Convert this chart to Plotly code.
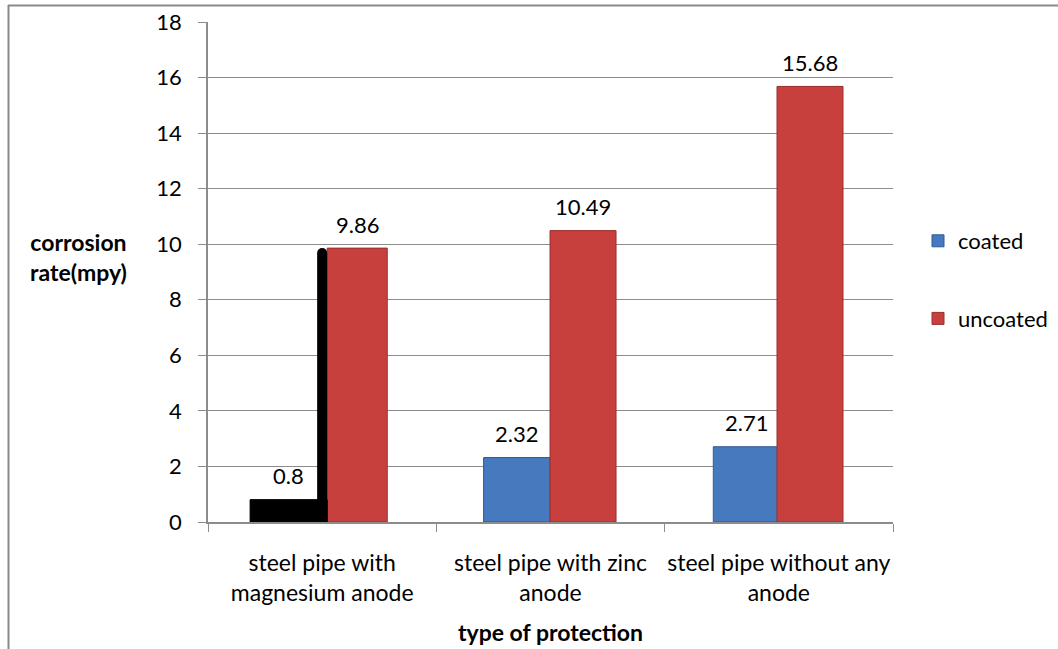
import plotly.graph_objects as go

# Corrosion rate (mpy) by type of cathodic protection
categories = ["steel pipe with<br>magnesium anode",
              "steel pipe with zinc<br>anode",
              "steel pipe without any<br>anode"]
coated = [0.8, 2.32, 2.71]
uncoated = [9.86, 10.49, 15.68]
y_ticks = [0, 2, 4, 6, 8, 10, 12, 14, 16, 18]

W, H = 1058, 649
L, R, T, B = 208, 165, 22, 127
PW, PH = W - L - R, H - T - B
FONT = "Lato"
GRID = "#8c8c8c"
BLUE = "#4679bd"
RED = "#c8403d"
TXT = 22

fig = go.Figure()

fig.add_bar(
    name="coated", x=categories, y=coated,
    marker=dict(color=BLUE, line=dict(color="#2f5a92", width=1)),
    offset=[-0.315, -0.293, -0.287], width=[0.337, 0.291, 0.287],
    legendgroup="a", hoverinfo="y",
)
fig.add_bar(
    name="uncoated", x=categories, y=uncoated,
    marker=dict(color=RED, line=dict(color="#9a2e2c", width=1)),
    offset=[0.022, -0.002, -0.008], width=[0.263, 0.289, 0.289],
    legendgroup="b", hoverinfo="y",
)
# first coated column is drawn in black, with a dark edge up the
# side of its uncoated neighbour
fig.add_bar(
    x=categories[:1], y=coated[:1],
    marker=dict(color="#000000", line=dict(color="#000000", width=1)),
    offset=-0.315, width=0.337, showlegend=False, hoverinfo="skip",
)
fig.add_bar(
    x=categories[:1], y=uncoated[:1],
    marker=dict(color="#000000", line=dict(width=0), cornerradius=6),
    offset=-0.022, width=0.044, showlegend=False, hoverinfo="skip",
)

# value labels above each column
label_x = {"coated": [-0.1465, -0.1475, -0.1435], "uncoated": [0.1535, 0.1425, 0.1365]}
for name, vals in (("coated", coated), ("uncoated", uncoated)):
    for i, v in enumerate(vals):
        fig.add_annotation(
            x=categories[i], y=v, text=f"{v:g}", showarrow=False,
            xshift=label_x[name][i] * PW / 3, yshift=24, yanchor="middle",
            font=dict(family=FONT, size=TXT, color="black"),
        )


def px(x):
    return (x - L) / PW


def py(y):
    return (T + PH - y) / PH


# axis titles
fig.add_annotation(
    x=px(78), y=py(257), xref="paper", yref="paper",
    xanchor="center", yanchor="middle",
    text="<b>corrosion<br>rate(mpy)</b>", showarrow=False, align="center",
    font=dict(family=FONT, size=23, color="black"),
)
fig.add_annotation(
    x=0.5, y=py(632), xref="paper", yref="paper",
    xanchor="center", yanchor="middle",
    text="<b>type of protection</b>", showarrow=False,
    font=dict(family=FONT, size=23, color="black"),
)

# chart frame (top and left edges)
fig.add_shape(type="line", xref="paper", yref="paper",
              x0=px(8), x1=px(1060), y0=py(5.5), y1=py(5.5),
              line=dict(color="#8a8a8a", width=2))
fig.add_shape(type="line", xref="paper", yref="paper",
              x0=px(8.5), x1=px(8.5), y0=py(5), y1=py(652),
              line=dict(color="#8a8a8a", width=2))

fig.update_layout(
    width=W, height=H,
    margin=dict(l=L, r=R, t=T, b=B, autoexpand=False),
    paper_bgcolor="white", plot_bgcolor="white",
    barmode="overlay",
    font=dict(family=FONT, size=TXT, color="black"),
    showlegend=True,
    legend=dict(x=px(918), y=py(220), xanchor="left", yanchor="top",
                tracegroupgap=46, font=dict(family=FONT, size=TXT, color="black"),
                bgcolor="rgba(0,0,0,0)"),
    xaxis=dict(
        type="category", tickson="boundaries", ticks="outside", ticklen=8,
        tickcolor=GRID, showline=True, linecolor=GRID, linewidth=1.5,
        showgrid=False, tickfont=dict(family=FONT, size=23), tickangle=0,
        ticklabelstandoff=20, range=[-0.5, 2.5], fixedrange=True,
        automargin=False,
    ),
    yaxis=dict(
        range=[0, 18], tickvals=y_ticks, ticks="outside", ticklen=8,
        tickcolor=GRID, showline=True, linecolor=GRID, linewidth=1.5,
        showgrid=True, gridcolor=GRID, gridwidth=1, zeroline=False,
        tickfont=dict(family=FONT, size=TXT), ticklabelstandoff=12,
        fixedrange=True, automargin=False,
    ),
)

fig.write_html("out.html")
